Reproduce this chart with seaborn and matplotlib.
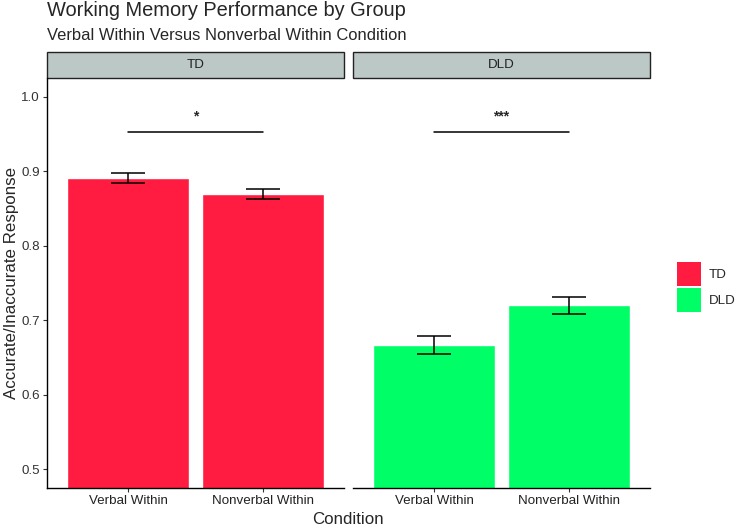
import pandas as pd
import seaborn as sns
import matplotlib.pyplot as plt
from matplotlib.patches import Rectangle, Patch

groups = ["TD", "DLD"]
conditions = ["Verbal Within", "Nonverbal Within"]
td_means = [0.891, 0.869]
td_se = [0.0065, 0.0065]
dld_means = [0.667, 0.720]
dld_se = [0.012, 0.0115]
sig_labels = ["*", "***"]
sig_y = 0.952
colors = {"TD": "#FF1C40", "DLD": "#00FF66"}

sns.set_style("white")
plt.rcParams["font.family"] = ["Liberation Sans", "DejaVu Sans"]

W, H = 738, 527
fig = plt.figure(figsize=(W / 100, H / 100), dpi=100)

top, bottom = 78, 488
panels = [(47, 344), (353, 650)]
data = {"TD": (td_means, td_se), "DLD": (dld_means, dld_se)}

for i, g in enumerate(groups):
    x0, x1 = panels[i]
    ax = fig.add_axes([x0 / W, (H - bottom) / H, (x1 - x0) / W, (bottom - top) / H])
    means, se = data[g]
    df = pd.DataFrame({"Condition": conditions, "Accuracy": means})
    sns.barplot(data=df, x="Condition", y="Accuracy", color=colors[g],
                saturation=1, width=0.9, errorbar=None, ax=ax)
    ax.errorbar(range(len(conditions)), means, yerr=se, fmt="none",
                ecolor="black", elinewidth=1.1, capsize=12, capthick=1.1)
    # significance bracket
    ax.plot([0, 1], [sig_y, sig_y], color="black", lw=1.1)
    ax.text(0.5, 0.973, sig_labels[i], ha="center", va="center", fontsize=10,
            fontweight="bold")
    ax.set_xlim(-0.6, 1.6)
    ax.set_ylim(0.475, 1.025)
    ax.set_xlabel("")
    ax.set_ylabel("")
    for s in ["top", "right"]:
        ax.spines[s].set_visible(False)
    ax.spines["bottom"].set_color("black")
    ax.spines["bottom"].set_linewidth(1)
    ax.tick_params(axis="x", bottom=True, length=3, width=0.8, color="#333333",
                   labelsize=9.6, labelcolor="#222222", pad=2)
    if i == 0:
        ax.spines["left"].set_color("black")
        ax.spines["left"].set_linewidth(1)
        ax.set_yticks([0.5, 0.6, 0.7, 0.8, 0.9, 1.0])
        ax.set_yticklabels(["0.5", "0.6", "0.7", "0.8", "0.9", "1.0"])
        ax.tick_params(axis="y", left=True, length=3, width=0.8, color="#333333",
                       labelsize=9.6, labelcolor="#333333", pad=2)
    else:
        ax.spines["left"].set_visible(False)
        ax.set_yticks([])
    # facet strip
    strip_h = 26 / (bottom - top)
    ax.add_patch(Rectangle((0, 1), 1, strip_h, transform=ax.transAxes,
                           facecolor="#BCC8C6", edgecolor="#222222", lw=1,
                           clip_on=False))
    ax.text(0.5, 1 + strip_h / 2, g, transform=ax.transAxes, ha="center",
            va="center", fontsize=9.6, color="#222222")

fig.text(47 / W, 1 - 11 / H, "Working Memory Performance by Group",
         ha="left", va="center", fontsize=14.4)
fig.text(47 / W, 1 - 36 / H, "Verbal Within Versus Nonverbal Within Condition",
         ha="left", va="center", fontsize=11.9)
fig.text(348 / W, 1 - 519 / H, "Condition", ha="center", va="center",
         fontsize=12.2)
fig.text(12 / W, 1 - 283 / H, "Accurate/Inaccurate Response", ha="center",
         va="center", rotation=90, fontsize=12.2)

handles = [Patch(facecolor=colors[g], edgecolor="none", label=g) for g in groups]
fig.legend(handles=handles, loc="center left",
           bbox_to_anchor=(677 / W, 1 - 287 / H), frameon=False, fontsize=9.6,
           handlelength=1.8, handleheight=2.4, handletextpad=0.6,
           labelspacing=0.15, borderpad=0, borderaxespad=0)

fig.savefig("out.png", dpi=100)
